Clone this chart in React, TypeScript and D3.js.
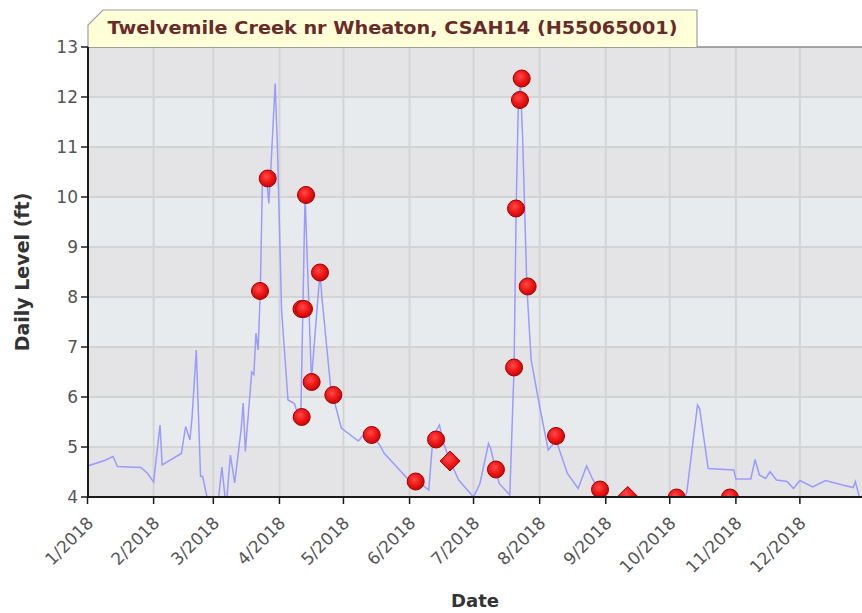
import React from "react";
import * as d3 from "d3";

const TITLE = "Twelvemile Creek nr Wheaton, CSAH14 (H55065001)";
const Y_LABEL = "Daily Level (ft)";
const X_LABEL = "Date";
const Y_TICKS = [4, 5, 6, 7, 8, 9, 10, 11, 12, 13];
const X_TICK_DATES = [
  "2018-01-01", "2018-02-01", "2018-03-01", "2018-04-01", "2018-05-01", "2018-06-01",
  "2018-07-01", "2018-08-01", "2018-09-01", "2018-10-01", "2018-11-01", "2018-12-01",
];
const X_TICK_LABELS = [
  "1/2018", "2/2018", "3/2018", "4/2018", "5/2018", "6/2018",
  "7/2018", "8/2018", "9/2018", "10/2018", "11/2018", "12/2018",
];

const DAILY_DATES = [
  "2018-01-01", "2018-01-09", "2018-01-13", "2018-01-15", "2018-01-26", "2018-01-29",
  "2018-02-01", "2018-02-04", "2018-02-05", "2018-02-14", "2018-02-16", "2018-02-18",
  "2018-02-19", "2018-02-21", "2018-02-23", "2018-02-24", "2018-02-27", "2018-03-03",
  "2018-03-05", "2018-03-07", "2018-03-09", "2018-03-11", "2018-03-14", "2018-03-15",
  "2018-03-16", "2018-03-19", "2018-03-20", "2018-03-21", "2018-03-22", "2018-03-23",
  "2018-03-24", "2018-03-26", "2018-03-27", "2018-03-28", "2018-03-30", "2018-03-31",
  "2018-04-02", "2018-04-03", "2018-04-05", "2018-04-08", "2018-04-09", "2018-04-11",
  "2018-04-12", "2018-04-13", "2018-04-16", "2018-04-20", "2018-04-21", "2018-04-25",
  "2018-04-30", "2018-05-08", "2018-05-13", "2018-05-14", "2018-05-18", "2018-05-20",
  "2018-05-23", "2018-05-31", "2018-06-04", "2018-06-07", "2018-06-10", "2018-06-12",
  "2018-06-15", "2018-06-17", "2018-06-20", "2018-06-24", "2018-07-01", "2018-07-04",
  "2018-07-08", "2018-07-09", "2018-07-13", "2018-07-18", "2018-07-20", "2018-07-21",
  "2018-07-22", "2018-07-23", "2018-07-24", "2018-07-26", "2018-07-28", "2018-08-01",
  "2018-08-05", "2018-08-07", "2018-08-08", "2018-08-14", "2018-08-19", "2018-08-23",
  "2018-08-26", "2018-08-29", "2018-08-31", "2018-10-07", "2018-10-09", "2018-10-14",
  "2018-10-15", "2018-10-19", "2018-10-31", "2018-11-01", "2018-11-08", "2018-11-10",
  "2018-11-12", "2018-11-15", "2018-11-17", "2018-11-20", "2018-11-25", "2018-11-28",
  "2018-12-01", "2018-12-07", "2018-12-13", "2018-12-21", "2018-12-26", "2018-12-27",
  "2018-12-29", "2018-12-31",
];
const DAILY_LEVELS = [
  4.62, 4.73, 4.81, 4.61, 4.59, 4.48,
  4.3, 5.44, 4.64, 4.87, 5.41, 5.14,
  5.58, 6.94, 4.41, 4.41, 3.8, 3.8,
  4.6, 3.8, 4.84, 4.28, 5.34, 5.88,
  4.91, 6.5, 6.45, 7.28, 6.94, 8.1,
  10.3, 10.4, 9.87, 10.6, 12.27, 11.07,
  7.74, 7.13, 5.94, 5.87, 5.74, 5.6,
  7.8, 10.04, 6.35, 8.5, 7.95, 6.2,
  5.38, 5.12, 5.38, 5.24, 5.04, 4.88,
  4.74, 4.37, 4.31, 4.24, 4.14, 5.21,
  5.44, 5.07, 4.72, 4.34, 4.0, 4.27,
  5.07, 4.97, 4.27, 4.04, 6.6, 9.8,
  11.9, 12.25, 11.2, 8.2, 6.74, 5.81,
  4.94, 5.04, 5.22, 4.47, 4.17, 4.62,
  4.34, 4.15, 3.85, 3.85, 4.1, 5.84,
  5.77, 4.57, 4.54, 4.36, 4.36, 4.75,
  4.44, 4.37, 4.51, 4.34, 4.31, 4.17,
  4.33, 4.2, 4.33, 4.24, 4.19, 4.31,
  3.98, 3.95,
];

const SAMPLE_TIMES = [
  "2018-03-22T21:00", "2018-03-26T12:00", "2018-04-11T08:00", "2018-04-12T12:00",
  "2018-04-11T10:00", "2018-04-13T11:00", "2018-04-16T02:00", "2018-04-20T00:00",
  "2018-04-26T06:00", "2018-05-14T06:00", "2018-06-03T21:00", "2018-06-13T10:00",
  "2018-06-20T00:00", "2018-07-11T12:00", "2018-07-20T00:00", "2018-07-20T22:00",
  "2018-07-22T18:00", "2018-07-23T14:00", "2018-07-26T09:00", "2018-08-08T16:00",
  "2018-08-29T07:00", "2018-09-11T07:00", "2018-10-04T05:00", "2018-10-29T05:00",
];
const SAMPLE_LEVELS = [
  8.12, 10.37, 7.76, 7.76,
  5.6, 10.04, 6.3, 8.49,
  6.04, 5.24, 4.31, 5.15,
  4.72, 4.55, 6.59, 9.77,
  11.94, 12.37, 8.21, 5.22,
  4.15, 4.01, 3.99, 3.99,
];
const SAMPLE_SHAPES = [
  "circle", "circle", "circle", "circle",
  "circle", "circle", "circle", "circle",
  "circle", "circle", "circle", "circle",
  "diamond", "circle", "circle", "circle",
  "circle", "circle", "circle", "circle",
  "circle", "diamond", "circle", "circle",
];

const parse = (s: string) => new Date(s.length === 10 ? s + "T00:00" : s);

const W = 862;
const H = 613;
const L = 88;
const R = 862;
const T = 47;
const B = 497;

export default function App() {
  const x = d3.scaleTime().domain([parse("2018-01-01"), parse("2019-01-01")]).range([87.5, 866]);
  const y = d3.scaleLinear().domain([4, 13]).range([B, T]);

  const daily = DAILY_DATES.map((d, i) => ({ t: parse(d), v: DAILY_LEVELS[i] }));
  const samples = SAMPLE_TIMES.map((d, i) => ({ t: parse(d), v: SAMPLE_LEVELS[i], s: SAMPLE_SHAPES[i] }));
  const line = d3.line<{ t: Date; v: number }>().x((d) => x(d.t)).y((d) => y(d.v));

  const bands = Y_TICKS.slice(0, -1);
  const tickX = X_TICK_DATES.map((d) => x(parse(d)));

  return (
    <svg width={W} height={H} style={{ position: "absolute", left: 0, top: 0, background: "#fff" }}>
      <defs>
        <clipPath id="plot">
          <rect x={L} y={T} width={R - L} height={B - T} />
        </clipPath>
        <radialGradient id="ball" cx="42%" cy="38%" r="62%">
          <stop offset="0%" stopColor="#ff4a4a" />
          <stop offset="55%" stopColor="#f01818" />
          <stop offset="100%" stopColor="#c80606" />
        </radialGradient>
      </defs>

      {bands.map((v) => (
        <rect key={v} x={L} y={y(v + 1)} width={R - L} height={y(v) - y(v + 1)}
          fill={v % 2 === 0 ? "#e4e4e6" : "#e8ebee"} />
      ))}
      {Y_TICKS.slice(1, -1).map((v) => (
        <line key={v} x1={L} x2={R} y1={y(v)} y2={y(v)} stroke="#d4d4d4" strokeWidth={2} />
      ))}
      {tickX.slice(1).map((tx, i) => (
        <line key={i} x1={tx} x2={tx} y1={T} y2={B} stroke="#d4d4d4" strokeWidth={2} />
      ))}

      <g clipPath="url(#plot)">
        <path d={line(daily) || ""} fill="none" stroke="#9a9aff" strokeWidth={1.5} />
        {samples.map((d, i) =>
          d.s === "circle" ? (
            <circle key={i} cx={x(d.t)} cy={y(d.v)} r={8.5} fill="url(#ball)" stroke="#a00000" strokeWidth={1} />
          ) : (
            <path key={i} transform={`translate(${x(d.t)},${y(d.v)})`} d="M0,-10L10,0L0,10L-10,0Z"
              fill="url(#ball)" stroke="#a00000" strokeWidth={1} />
          )
        )}
      </g>

      <line x1={L} x2={R} y1={T} y2={T} stroke="#8a8a8a" strokeWidth={1.5} />
      <path d={`M${L},${T}L${L},25L103,10L697,10L697,${T}`} fill="#ffffd8" stroke="#a0a0a0" strokeWidth={1.2} />
      <text x={392.5} y={33.5} textAnchor="middle" fontFamily="DejaVu Sans" fontWeight="bold" fontSize={18}
        textLength={570} lengthAdjust="spacingAndGlyphs" fill="#6b2a2a">{TITLE}</text>

      <line x1={L} x2={L} y1={T} y2={B + 1} stroke="#1a1a1a" strokeWidth={2} />
      <line x1={L - 1} x2={R} y1={B} y2={B} stroke="#1a1a1a" strokeWidth={2} />
      {Y_TICKS.map((v) => (
        <g key={v}>
          <line x1={81} x2={L} y1={y(v)} y2={y(v)} stroke="#1a1a1a" strokeWidth={1.5} />
          <text x={78} y={y(v) + 6} textAnchor="end" fontFamily="DejaVu Sans" fontSize={17} fill="#555">{v}</text>
        </g>
      ))}
      {tickX.map((tx, i) => (
        <g key={i}>
          <line x1={tx} x2={tx} y1={B} y2={B + 7} stroke="#1a1a1a" strokeWidth={1.5} />
          <text transform={`translate(${tx + 7},${524}) rotate(-45)`} textAnchor="end" fontFamily="DejaVu Sans"
            fontSize={17} fill="#555">{X_TICK_LABELS[i]}</text>
        </g>
      ))}

      <text transform={`translate(29,${(T + B) / 2}) rotate(-90)`} textAnchor="middle" fontFamily="DejaVu Sans"
        fontWeight="bold" fontSize={19} fill="#333">{Y_LABEL}</text>
      <text x={(L + R) / 2} y={607} textAnchor="middle" fontFamily="DejaVu Sans" fontWeight="bold" fontSize={18}
        fill="#333">{X_LABEL}</text>
    </svg>
  );
}
